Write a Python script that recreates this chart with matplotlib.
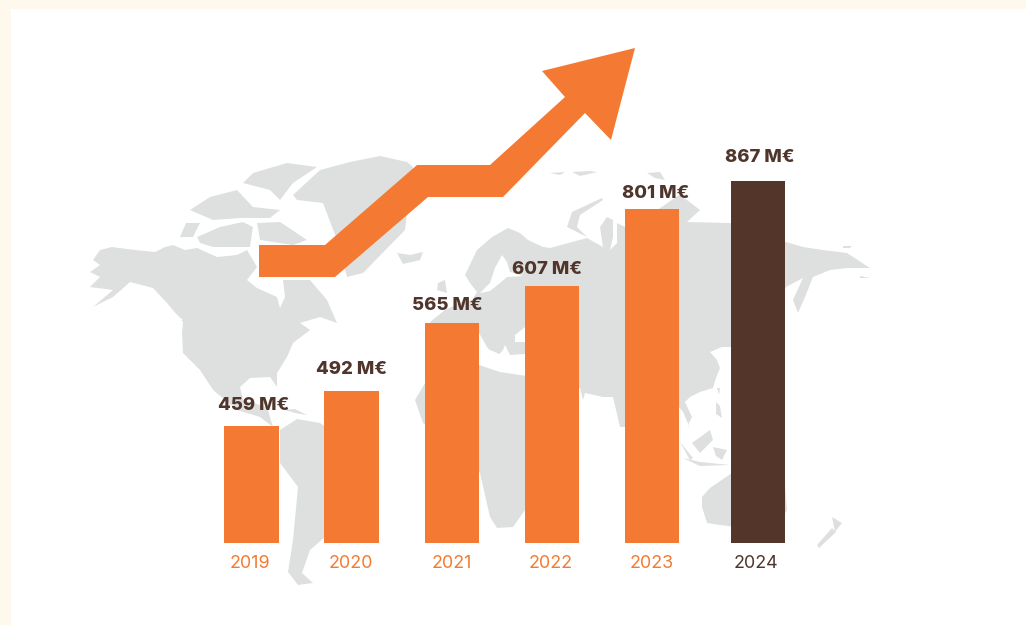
import matplotlib
matplotlib.use('Agg')
import matplotlib.pyplot as plt
from matplotlib.patches import Polygon, Rectangle

years=['2019','2020','2021','2022','2023','2024']
amounts=['459 M€','492 M€','565 M€','607 M€','801 M€','867 M€']
# bars of the original are not to scale, heights read off the picture
bar_heights=[117,152,220,257,334,362]

orange='#F47A33'
brown='#533629'
text_brown='#4F352B'
land='#DEE0E0'
cream='#FFF8EC'

plt.rcParams['font.family']=['Inter','DejaVu Sans']

fig=plt.figure(figsize=(10.26,6.25),dpi=100,facecolor=cream)
ax=fig.add_axes([0,0,1,1])
ax.set_xlim(0,1026)
ax.set_ylim(625,0)
ax.axis('off')

ax.add_patch(Rectangle((11,9),1015,616,fc='white',ec='none',zorder=0))

# rough world map behind the bars
continents=[
    # north america
    [(93,260),(100,250),(112,247),(135,250),(155,252),(165,247),(173,245),(185,250),(197,248),(217,257),(237,255),(247,250),(257,267),(247,280),(257,288),(277,297),(280,308),(285,297),(283,280),(310,280),(327,300),(337,323),(320,317),(300,323),(310,330),(293,343),(287,357),(277,373),(277,387),(270,377),(250,378),(240,387),(243,400),(267,407),(273,427),(260,417),(237,410),(213,390),(200,370),(183,353),(182,333),(183,322),(167,303),(153,288),(130,282),(113,297),(93,307),(113,290),(90,287),(100,277),(90,272),(100,265)],
    # greenland
    [(293,195),(320,170),(350,162),(380,156),(407,162),(413,167),(405,230),(363,273),(347,277),(337,240),(323,203),(297,200)],
    # iceland
    [(397,253),(410,255),(423,252),(420,260),(403,264)],
    # arctic islands
    [(257,223),(280,222),(307,240),(293,245),(260,240)],
    [(197,237),(220,227),(243,222),(253,227),(250,247),(213,247),(200,243)],
    [(180,237),(186,223),(200,223),(193,237)],
    [(190,210),(210,197),(237,190),(253,207),(280,210),(270,218),(240,218),(213,220)],
    [(253,173),(287,163),(317,167),(293,183),(280,200),(270,190),(243,183)],
    # cuba
    [(285,410),(295,409),(307,415),(295,413)],
    # south america
    [(280,430),(297,419),(320,423),(345,440),(378,470),(370,500),(345,530),(325,537),(310,550),(302,573),(313,583),(298,585),(288,572),(293,540),(298,487),(280,463)],
    # africa
    [(415,400),(425,383),(440,365),(470,362),(500,372),(540,378),(560,400),(570,420),(555,480),(525,510),(513,527),(497,528),(490,517),(480,473),(455,440),(423,423)],
    # eurasia
    [(430,322),(445,310),(462,302),(472,300),(477,292),(470,283),(465,275),(477,250),(492,237),(508,228),(520,233),(528,240),(543,247),(550,248),(587,238),(603,247),(600,227),(607,217),(613,220),(613,237),(610,250),(617,243),(617,223),(625,227),(650,215),(679,195),(687,200),(700,210),(687,222),(730,223),(786,242),(803,247),(823,250),(847,253),(870,268),(847,268),(830,270),(813,277),(805,297),(798,313),(793,300),(803,278),(786,287),(760,330),(731,347),(722,347),(710,352),(717,360),(720,368),(716,378),(713,388),(700,392),(690,397),(685,402),(692,417),(688,425),(690,428),(683,412),(679,407),(640,400),(625,427),(620,427),(613,397),(603,397),(585,393),(583,400),(580,388),(550,375),(530,372),(525,365),(490,350),(470,345),(440,345)],
    # novaya zemlya
    [(567,227),(572,212),(602,198),(603,200),(580,215),(577,227),(587,237)],
    # russian arctic islands
    [(550,173),(565,172),(560,175)],
    [(572,172),(590,171),(597,172),(580,176)],
    [(647,173),(660,172),(665,180),(655,178)],
    [(843,246),(852,246),(850,248),(843,248)],
    [(860,276),(870,278),(860,278)],
    # uk
    [(438,283),(445,280),(447,293),(437,290)],
    # se asia islands
    [(692,443),(710,430),(713,440),(700,453)],
    [(716,402),(720,406),(722,418),(716,414)],
    [(717,388),(720,388),(719,395)],
    [(680,442),(693,458),(690,460)],
    [(683,458),(700,462),(730,465),(700,466)],
    [(713,447),(727,450),(722,460),(716,456)],
    # australia
    [(702,497),(710,488),(732,473),(760,470),(785,485),(787,510),(775,530),(745,528),(720,525),(707,523),(702,507)],
    # new zealand
    [(832,517),(842,523),(835,532)],
    [(832,528),(836,532),(819,548),(817,545)],
]
for c in continents:
    ax.add_patch(Polygon(c,closed=True,fc=land,ec='none',zorder=1))

# seas cut out of the land
seas=[
    # baltic
    [(502,255),(495,268),(490,283),(480,293),(490,291),(500,283),(507,277),(523,276),(510,272),(507,262)],
    # mediterranean
    [(479,333),(487,347),(496,358),(503,350),(505,345),(510,355),(525,354),(525,366),(500,367),(479,363)],
    # black sea
    [(515,335),(525,327),(525,342),(515,342)],
    # gulf of california, bc coast
    [(199,370),(213,390),(208,390),(202,380)],
    [(163,303),(183,320),(178,320),(165,310)],
]
for s in seas:
    ax.add_patch(Polygon(s,closed=True,fc='white',ec='none',zorder=2))

# growth arrow
arrow=[(259,245),(325,245),(417,165),(490,165),(565,97),(542,71),(635,48),(611,140),(585,113),(503,197),(428,197),(335,277),(259,277)]
ax.add_patch(Polygon(arrow,closed=True,fc=orange,ec='none',zorder=3))

bar_x=[251.5,351.5,452,552,652,758]
bar_colors=[orange,orange,orange,orange,orange,brown]
ax.bar(bar_x,[-h for h in bar_heights],bottom=543,width=54.5,color=bar_colors,zorder=4)

label_x=[254,351.5,447,547,656,760]
label_y=[406,370,306,269,193,157]
for x,y,t in zip(label_x,label_y,amounts):
    ax.text(x,y,t,ha='center',va='center',fontsize=13.3,fontweight='heavy',color=text_brown,zorder=5)

year_x=[249.5,351,452,551,652,756]
year_colors=[orange,orange,orange,orange,orange,text_brown]
for x,t,col in zip(year_x,years,year_colors):
    ax.text(x,563,t,ha='center',va='center',fontsize=12.9,color=col,zorder=5)

fig.savefig('out.png',dpi=100,facecolor=cream)
